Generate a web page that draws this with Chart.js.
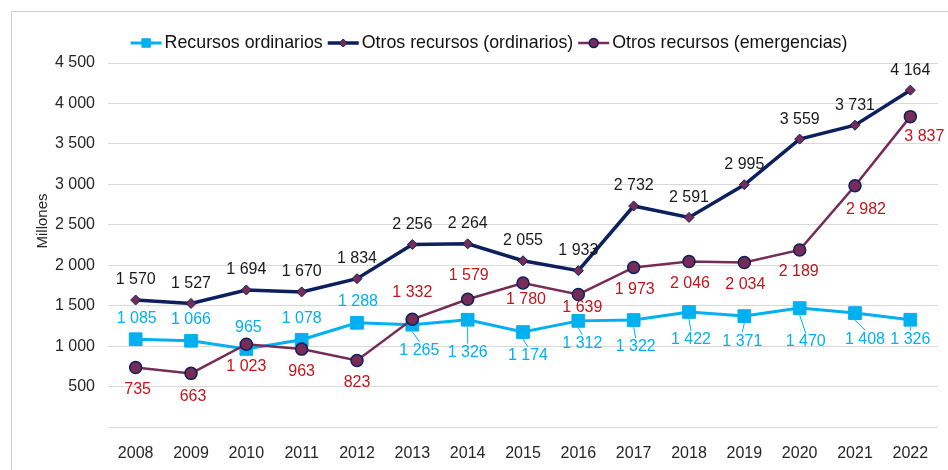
<!DOCTYPE html>
<html>
<head>
<meta charset="utf-8">
<script src="https://cdn.jsdelivr.net/npm/chart.js@4"></script>
<style>
  html, body { margin: 0; padding: 0; background: #fff; }
  #wrap { position: relative; width: 948px; height: 470px; overflow: hidden; }
  #frame { position: absolute; left: 11px; top: 11px; right: -2px; bottom: -2px;
           border-top: 1px solid #d0d0d0; border-left: 1px solid #d0d0d0; }
  canvas { position: absolute; left: 0; top: 0; }
</style>
</head>
<body>
<div id="wrap">
  <div id="frame"></div>
  <canvas id="chart" width="948" height="470"></canvas>
</div>
<script>
const years = ["2008", "2009", "2010", "2011", "2012", "2013", "2014", "2015",
  "2016", "2017", "2018", "2019", "2020", "2021", "2022"];

const recursosOrdinarios = [1085, 1066, 965, 1078, 1288, 1265, 1326, 1174, 1312, 1322, 1422, 1371, 1470, 1408, 1326];
const otrosOrdinarios = [1570, 1527, 1694, 1670, 1834, 2256, 2264, 2055, 1933, 2732, 2591, 2995, 3559, 3731, 4164];
const otrosEmergencias = [735, 663, 1023, 963, 823, 1332, 1579, 1780, 1639, 1973, 2046, 2034, 2189, 2982, 3837];

const yTicks = [0, 500, 1000, 1500, 2000, 2500, 3000, 3500, 4000, 4500];

// label placement (pixel offsets from each point), kept apart from the data
const blueLabelDy = [-21, -21, -21, -21, -21, 26, 33, 24, 23, 27, 28, 25, 34, 26, 20];
const blueLabelDx = [1, 0, 2, 0, 1, 7, 0, 5, 4, 2, 2, -2, 6, 10, 0];
const navyLabelDy = new Array(15).fill(-20);
const navyLabelDx = new Array(15).fill(0);
const redLabelDy = [22, 23, 22, 22, 22, -27, -24, 17, 13, 22, 22, 22, 22, 24, 20];
const redLabelDx = [2, 2, 0, 0, 0, 0, 1, 3, 4, 1, 1, 1, -1, 11, 14];

const C = {
  blue: "#00b0f0",
  navy: "#0c1f5e",
  maroon: "#772c58",
  red: "#c0161c",
  text: "#262626",
  grid: "#d9d9d9"
};

const fmt = v => String(v).replace(/\B(?=(\d{3})+(?!\d))/g, " ");

const labelCfg = [
  { dy: blueLabelDy, dx: blueLabelDx, color: C.blue, leader: true },
  { dy: navyLabelDy, dx: navyLabelDx, color: "#1a1a1a", leader: false },
  { dy: redLabelDy, dx: redLabelDx, color: C.red, leader: false }
];

const dataLabels = {
  id: "dataLabels",
  afterDatasetsDraw(chart) {
    const ctx = chart.ctx;
    ctx.save();
    ctx.font = "16px 'Liberation Sans', Arial, sans-serif";
    ctx.textAlign = "center";
    ctx.textBaseline = "middle";
    chart.data.datasets.forEach((ds, i) => {
      const cfg = labelCfg[i];
      chart.getDatasetMeta(i).data.forEach((pt, j) => {
        const lx = pt.x + cfg.dx[j];
        const ly = pt.y + cfg.dy[j];
        if (cfg.leader && cfg.dy[j] > 0) {
          ctx.strokeStyle = cfg.color;
          ctx.lineWidth = 1;
          ctx.beginPath();
          ctx.moveTo(pt.x, pt.y + 7);
          ctx.lineTo(lx, ly - 9);
          ctx.stroke();
        }
        ctx.fillStyle = cfg.color;
        ctx.fillText(fmt(ds.data[j]), lx, ly);
      });
    });
    ctx.restore();
  }
};

function drawMarker(ctx, style, r, x, y) {
  if (style === "rect") {
    const s = r * Math.SQRT1_2;
    ctx.rect(x - s, y - s, 2 * s, 2 * s);
  } else if (style === "rectRot") {
    ctx.moveTo(x - r, y); ctx.lineTo(x, y - r); ctx.lineTo(x + r, y); ctx.lineTo(x, y + r); ctx.closePath();
  } else {
    ctx.arc(x, y, r, 0, Math.PI * 2);
  }
}

const legendAndTitle = {
  id: "legendAndTitle",
  afterDraw(chart) {
    const ctx = chart.ctx;
    ctx.save();
    // y axis title
    ctx.font = "15px 'Liberation Sans', Arial, sans-serif";
    ctx.fillStyle = C.text;
    ctx.textAlign = "center";
    ctx.textBaseline = "middle";
    ctx.translate(43, 221);
    ctx.rotate(-Math.PI / 2);
    ctx.fillText("Millones", 0, 0);
    ctx.restore();

    // legend
    ctx.save();
    ctx.font = "17.8px 'Liberation Sans', Arial, sans-serif";
    ctx.textBaseline = "middle";
    const sw = 31, gapA = 3, gapB = 5;
    const items = chart.data.datasets.map(ds => ({ ds, w: ctx.measureText(ds.label).width }));
    const total = items.reduce((s, it) => s + sw + gapA + it.w, 0) + gapB * (items.length - 1);
    let x = 489 - total / 2;
    const y = 43;
    items.forEach(it => {
      const ds = it.ds;
      ctx.strokeStyle = ds.borderColor;
      ctx.lineWidth = ds.borderWidth;
      ctx.beginPath();
      ctx.moveTo(x, y);
      ctx.lineTo(x + sw, y);
      ctx.stroke();
      ctx.fillStyle = ds.pointBackgroundColor;
      ctx.strokeStyle = ds.pointBorderColor;
      ctx.lineWidth = ds.pointBorderWidth;
      ctx.beginPath();
      drawMarker(ctx, ds.pointStyle, ds.legendRadius, x + sw / 2, y);
      ctx.fill();
      ctx.stroke();
      ctx.fillStyle = "#111";
      ctx.textAlign = "left";
      ctx.fillText(ds.label, x + sw + gapA, y);
      x += sw + gapA + it.w + gapB;
    });
    ctx.restore();
  }
};

new Chart(document.getElementById("chart"), {
  type: "line",
  data: {
    labels: years,
    datasets: [
      {
        label: "Recursos ordinarios",
        data: recursosOrdinarios,
        borderColor: C.blue,
        borderWidth: 3,
        pointStyle: "rect",
        pointRadius: 9,
        legendRadius: 6,
        pointBackgroundColor: C.blue,
        pointBorderColor: C.blue,
        pointBorderWidth: 1,
        tension: 0,
        order: 3
      },
      {
        label: "Otros recursos (ordinarios)",
        data: otrosOrdinarios,
        borderColor: C.navy,
        borderWidth: 3.5,
        pointStyle: "rectRot",
        pointRadius: 5,
        legendRadius: 4,
        pointBackgroundColor: C.maroon,
        pointBorderColor: C.navy,
        pointBorderWidth: 1,
        tension: 0,
        order: 2
      },
      {
        label: "Otros recursos (emergencias)",
        data: otrosEmergencias,
        borderColor: C.maroon,
        borderWidth: 2.5,
        pointStyle: "circle",
        pointRadius: 6,
        legendRadius: 4.5,
        pointBackgroundColor: C.maroon,
        pointBorderColor: C.navy,
        pointBorderWidth: 1.5,
        tension: 0,
        order: 1
      }
    ]
  },
  options: {
    responsive: false,
    animation: false,
    layout: { padding: { left: 0, right: 2, top: 63, bottom: 0 } },
    plugins: {
      legend: { display: false },
      tooltip: { enabled: false }
    },
    scales: {
      x: {
        offset: true,
        grid: { display: false },
        border: { display: false },
        ticks: {
          color: C.text,
          padding: 9,
          maxRotation: 0,
          font: { family: "'Liberation Sans', Arial, sans-serif", size: 16 }
        },
        afterFit(scale) { scale.height = 43; }
      },
      y: {
        min: 0,
        max: 4500,
        afterBuildTicks(scale) { scale.ticks = yTicks.map(v => ({ value: v })); },
        grid: { color: C.grid, lineWidth: 1, drawTicks: false },
        border: { display: false },
        ticks: {
          color: C.text,
          padding: 13,
          font: { family: "'Liberation Sans', Arial, sans-serif", size: 16 },
          callback: v => (v === 0 ? "" : fmt(v))
        },
        afterFit(scale) { scale.width = 108; }
      }
    }
  },
  plugins: [dataLabels, legendAndTitle]
});
</script>
</body>
</html>
